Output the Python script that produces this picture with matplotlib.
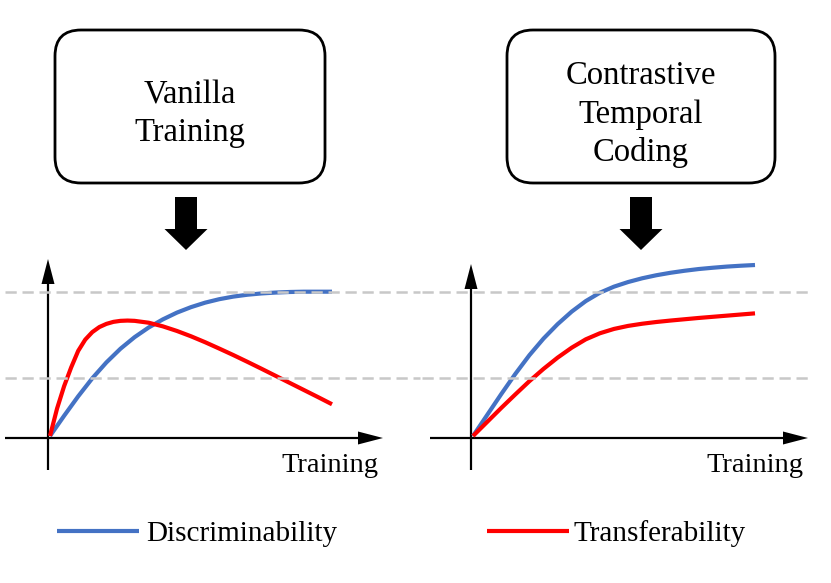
"""Vanilla training vs. contrastive temporal coding schematic."""

import matplotlib

matplotlib.use("Agg")
from matplotlib import pyplot as plt  # noqa: E402
from matplotlib.patches import FancyArrow, FancyBboxPatch  # noqa: E402

plt.rcParams["font.family"] = ["Liberation Serif", "DejaVu Serif"]

BLUE = "#4472C4"
RED = "#FF0000"
GREY = "#C8C8C8"

# curve samples (x: training progress 0-10, y: 1.0 = upper dashed level)
vanilla_disc_x = [0, 0.5, 1, 1.5, 2, 2.5, 3, 3.5, 4, 4.5, 5, 5.5, 6, 6.5, 7, 7.5, 8, 8.5, 9, 10]
vanilla_disc_y = [0, 0.14, 0.275, 0.40, 0.51, 0.605, 0.685, 0.752, 0.808, 0.855, 0.893, 0.924,
                  0.948, 0.966, 0.979, 0.988, 0.994, 0.998, 1.0, 1.0]

vanilla_trans_x = [0, 0.25, 0.5, 0.75, 1, 1.25, 1.5, 1.75, 2, 2.25, 2.5, 2.75, 3, 3.5, 4, 4.5,
                   5, 5.5, 6, 6.5, 7, 7.5, 8, 8.5, 9, 9.5, 10]
vanilla_trans_y = [0, 0.19, 0.345, 0.475, 0.59, 0.668, 0.72, 0.755, 0.777, 0.791, 0.798, 0.80,
                   0.798, 0.785, 0.76, 0.728, 0.691, 0.65, 0.606, 0.561, 0.514, 0.466, 0.417,
                   0.368, 0.319, 0.27, 0.22]

ctc_disc_x = [0, 0.5, 1, 1.5, 2, 2.5, 3, 3.5, 4, 4.5, 5, 5.5, 6, 6.5, 7, 7.5, 8, 8.5, 9, 9.5, 10]
ctc_disc_y = [0, 0.145, 0.29, 0.43, 0.56, 0.675, 0.775, 0.862, 0.935, 0.993, 1.035, 1.067,
              1.093, 1.114, 1.131, 1.145, 1.157, 1.166, 1.174, 1.18, 1.185]

ctc_trans_x = [0, 0.5, 1, 1.5, 2, 2.5, 3, 3.5, 4, 4.5, 5, 5.5, 6, 6.5, 7, 7.5, 8, 8.5, 9, 9.5, 10]
ctc_trans_y = [0, 0.097, 0.194, 0.288, 0.38, 0.465, 0.543, 0.612, 0.67, 0.712, 0.742, 0.763,
               0.778, 0.79, 0.80, 0.809, 0.818, 0.826, 0.834, 0.842, 0.85]

reference_levels = [1.0, 0.40]

box_labels = [["Vanilla", "Training"], ["Contrastive", "Temporal", "Coding"]]
axis_label = "Training"
legend_labels = ["Discriminability", "Transferability"]

W, H = 831, 583
PX_PER_X = 28.2
PX_PER_Y = 144.3

fig = plt.figure(figsize=(W / 100, H / 100), dpi=100)
canvas = fig.add_axes([0, 0, 1, 1])
canvas.set_xlim(0, W)
canvas.set_ylim(H, 0)
canvas.axis("off")

panels = [
    {"origin": (50, 436), "axes_at": (48, 438), "dash": (5, 420), "box": (55, 270),
     "x_axis": (5, 383), "y_tip": 259, "arrow_x": 186, "label_right": 378,
     "series": [(vanilla_disc_x, vanilla_disc_y, BLUE), (vanilla_trans_x, vanilla_trans_y, RED)]},
    {"origin": (473, 436), "axes_at": (471, 438), "dash": (422, 808), "box": (507, 268),
     "x_axis": (430, 808), "y_tip": 264, "arrow_x": 641, "label_right": 803,
     "series": [(ctc_disc_x, ctc_disc_y, BLUE), (ctc_trans_x, ctc_trans_y, RED)]},
]

for panel, lines in zip(panels, box_labels):
    ox, oy = panel["origin"]
    axx, axy = panel["axes_at"]
    bx, bw = panel["box"]

    # rounded title box
    canvas.add_patch(FancyBboxPatch((bx, 30), bw, 153, boxstyle="round,pad=0,rounding_size=26",
                                    lw=2, ec="black", fc="white"))
    pitch = 38
    for i, line in enumerate(lines):
        base = 122.5 + (i - (len(lines) - 1) / 2) * pitch
        canvas.text(bx + bw / 2, base, line, ha="center", va="baseline", fontsize=23.5)

    # block arrow down
    canvas.add_patch(FancyArrow(panel["arrow_x"], 197, 0, 53, width=22, head_width=43,
                                head_length=21, length_includes_head=True, color="black", lw=0))

    # coordinate axes with arrow heads
    x0, x1 = panel["x_axis"]
    canvas.add_patch(FancyArrow(x0, axy, x1 - x0, 0, width=2.2, head_width=13, head_length=25,
                                length_includes_head=True, color="black", lw=0))
    canvas.add_patch(FancyArrow(axx, 470, 0, panel["y_tip"] - 470, width=2.2, head_width=13,
                                head_length=25, length_includes_head=True, color="black", lw=0))
    canvas.text(panel["label_right"], 472, axis_label, ha="right", va="baseline", fontsize=20.5)

    # data panel: one x unit = PX_PER_X px, one y unit = PX_PER_Y px
    ax = fig.add_axes([ox / W, (H - oy) / H, 10 * PX_PER_X / W, PX_PER_Y / H])
    ax.set_xlim(0, 10)
    ax.set_ylim(0, 1)
    ax.axis("off")
    ax.patch.set_alpha(0)
    for xs, ys, color in panel["series"]:
        ax.plot(xs, ys, color=color, lw=3, solid_capstyle="butt", solid_joinstyle="round",
                clip_on=False, zorder=2)
    d0 = (panel["dash"][0] - ox) / PX_PER_X
    d1 = (panel["dash"][1] - ox) / PX_PER_X
    ax.hlines(reference_levels, d0, d1, colors=GREY, lw=1.8, linestyles=(0, (4.5, 2.3)),
              clip_on=False, zorder=3)

# legend
for (lx, tx), label, color in zip([(57, 146), (487, 574)], legend_labels, [BLUE, RED]):
    canvas.plot([lx, lx + 82], [531, 531], color=color, lw=3, solid_capstyle="butt")
    canvas.text(tx, 541, label, ha="left", va="baseline", fontsize=21)

fig.savefig("out.png", dpi=100)
